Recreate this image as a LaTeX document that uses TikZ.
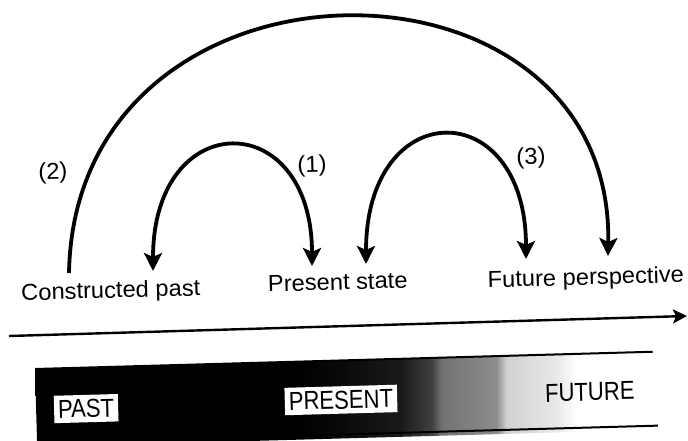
\documentclass[tikz,border=0pt]{standalone}
\usepackage{fontspec}
\setmainfont{Liberation Sans}
\newfontfamily\upfont{Liberation Sans}[FakeStretch=1.03]
\newfontfamily\barfont{Liberation Sans}[FakeStretch=0.85]
\usetikzlibrary{arrows.meta}
\pgfdeclarehorizontalshading{barshade}{100bp}{color(0bp)=(black); color(46.4bp)=(black); color(54.4bp)=(black!90); color(56.9bp)=(black!75); color(57.7bp)=(black!55); color(62.1bp)=(black!45); color(62.9bp)=(black!18); color(66.9bp)=(black!9); color(68.6bp)=(white); color(100bp)=(white)}
\tikzset{
  lbl/.style={font=\upfont\fontsize{23}{27}\selectfont, inner sep=0pt, rotate=1.6},
  arcline/.style={line width=3.8pt},
  headtip/.tip={Stealth[length=18pt,width=18pt,inset=4pt]},
  axline/.style={line width=2.4pt, -{Stealth[length=14pt,width=14pt,inset=3pt]}},
  barline/.style={line width=2pt},
  barbox/.style={fill=white, inner xsep=4pt, inner ysep=4.5pt, font=\barfont\fontsize{26}{30}\selectfont, rotate=1.6},
  bartxt/.style={inner sep=0pt, font=\barfont\fontsize{26}{30}\selectfont, rotate=1.6}
}
\begin{document}
\begin{tikzpicture}[x=1pt,y=-1pt]
\useasboundingbox (0,0) rectangle (688,441);
\clip (0,0) rectangle (688,441);
\fill[white] (0,0) rectangle (688,441);

% texts
\node[lbl, anchor=base] (cp) at (111,298) {Constructed past};
\node[lbl, anchor=base] (ps) at (338,290) {Present state};
\node[lbl, anchor=base] (fp) at (586,285) {Future perspective};
\node[lbl] (l1) at (312,166) {(1)};
\node[lbl] (l2) at (53,173) {(2)};
\node[lbl] (l3) at (531,158) {(3)};

% arc end points
\coordinate (bigL) at (69,273);
\coordinate (bigR) at (608,256);
\coordinate (oneL) at (153,271);
\coordinate (oneR) at (312,266);
\coordinate (thrL) at (366,264);
\coordinate (thrR) at (526,259);

\draw[arcline, -headtip] (bigL) .. controls +(6,-338) and +(6,-322) .. (bigR);
\draw[arcline, headtip-headtip] (oneL) .. controls +(0,-165) and +(0,-160) .. (oneR);
\draw[arcline, headtip-headtip] (thrL) .. controls +(0,-170) and +(0,-165) .. (thrR);

% time axis
\coordinate (ax1) at (9,336);
\coordinate (ax2) at (687,316);
\draw[axline] (ax1) -- (ax2);

% bar
\begin{scope}[shift={(35,369)}, rotate=1.6]
  \shade[shading=barshade] (0,0) rectangle (620,78);
  \coordinate (tl) at (0,0);
  \coordinate (tr) at (618,0);
  \coordinate (bl) at (0,74);
  \coordinate (br) at (621,74);
  \draw[barline] (tl) -- (tr);
  \draw[barline] (bl) -- (br);
  \node[barbox] (past) at (50,41) {PAST};
  \node[barbox] (present) at (305,39.5) {PRESENT};
  \node[bartxt] (future) at (554,38.5) {FUTURE};
\end{scope}
\end{tikzpicture}
\end{document}
